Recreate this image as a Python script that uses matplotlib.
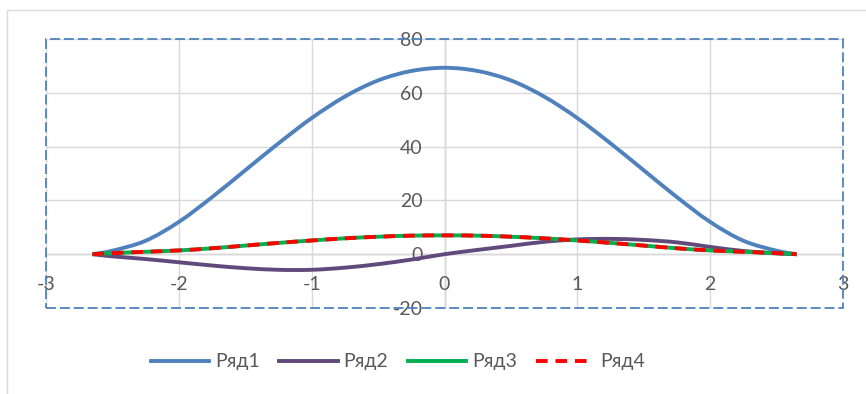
import matplotlib.pyplot as plt
from matplotlib.patches import Rectangle, PathPatch
from matplotlib.path import Path
from matplotlib.lines import Line2D

plt.rcParams['font.family'] = ['Lato', 'DejaVu Sans']
plt.rcParams['axes.unicode_minus'] = False

x = [-2.65, -2.5, -2.25, -2.0, -1.75, -1.5, -1.25, -1.0, -0.75, -0.5, -0.25, 0.0,
     0.25, 0.5, 0.75, 1.0, 1.25, 1.5, 1.75, 2.0, 2.25, 2.5, 2.65]
ryad1 = [0.0, 1.3, 5.0, 12.0, 21.2, 31.2, 41.2, 50.6, 58.6, 64.6, 68.1, 69.3,
         68.1, 64.6, 58.6, 50.6, 41.2, 31.2, 21.2, 12.0, 5.0, 1.3, 0.0]
ryad2 = [0.0, -0.8, -1.8, -3.0, -4.2, -5.2, -5.8, -5.8, -5.0, -3.7, -2.0, 0.0,
         1.6, 3.1, 4.6, 5.5, 5.7, 5.3, 4.4, 2.7, 1.2, 0.3, 0.0]
ryad3 = [0.0, 0.4, 0.9, 1.4, 2.2, 3.2, 4.2, 5.1, 5.9, 6.5, 6.9, 7.0,
         6.9, 6.5, 5.9, 5.1, 4.2, 3.2, 2.2, 1.4, 0.9, 0.4, 0.0]
ryad4 = list(ryad3)


def smooth_path(xs, ys):
    # smoothed line through the points, cubic Bezier segments (Catmull-Rom style)
    pts = list(zip(xs, ys))
    n = len(pts)
    verts = [pts[0]]
    codes = [Path.MOVETO]
    for i in range(n - 1):
        p0 = pts[max(i - 1, 0)]
        p1 = pts[i]
        p2 = pts[i + 1]
        p3 = pts[min(i + 2, n - 1)]
        c1 = (p1[0] + (p2[0] - p0[0]) / 6, p1[1] + (p2[1] - p0[1]) / 6)
        c2 = (p2[0] - (p3[0] - p1[0]) / 6, p2[1] - (p3[1] - p1[1]) / 6)
        verts += [c1, c2, p2]
        codes += [Path.CURVE4] * 3
    return Path(verts, codes)


fig = plt.figure(figsize=(8.66, 3.94), dpi=100)
# chart frame
fig.patches.append(Rectangle((7 / 866, -0.1), 1.1, 1 - 10 / 394 + 0.1,
                             transform=fig.transFigure, fill=False,
                             ec="#D9D9D9", lw=1))
ax = fig.add_axes([46 / 866, 1 - 308 / 394, 797 / 866, 269 / 394])

lw = 2.8
series = [
    (ryad1, "Ряд1", "#4F81BD", "-"),
    (ryad2, "Ряд2", "#604A7B", "-"),
    (ryad3, "Ряд3", "#00B050", "-"),
    (ryad4, "Ряд4", "#FF0000", (0, (3, 2))),
]
handles = []
for ys, name, col, ls in series:
    ax.add_patch(PathPatch(smooth_path(x, ys), fill=False, ec=col, lw=lw,
                           ls=ls, capstyle="butt", joinstyle="round"))
    handles.append(Line2D([], [], color=col, lw=lw, ls=ls, label=name))

ax.set_xlim(-3, 3)
ax.set_ylim(-20, 80)
ax.set_xticks(range(-3, 4))
ax.set_yticks(range(-20, 81, 20))
ax.grid(color="#D9D9D9", lw=1)
ax.set_axisbelow(True)

for s in ["top", "right"]:
    ax.spines[s].set_visible(False)
ax.spines["left"].set_position(("data", 0))
ax.spines["bottom"].set_position(("data", 0))
for s in ["left", "bottom"]:
    ax.spines[s].set_color("#BFBFBF")
    ax.spines[s].set_linewidth(1)
    ax.spines[s].set_zorder(0.5)
ax.tick_params(axis="both", length=0, labelsize=14, labelcolor="#595959")
ax.tick_params(axis="x", pad=16)
ax.tick_params(axis="y", pad=16)

# dashed border round the plot area
ax.add_patch(Rectangle((0, 0), 1, 1, transform=ax.transAxes, fill=False,
                       ec="#4F81BD", lw=1.3, ls=(0, (5.5, 2.2)), clip_on=False))

fig.legend(handles=handles, loc="center",
           bbox_to_anchor=(398 / 866, 1 - 362 / 394), ncol=4,
           frameon=False, fontsize=14, labelcolor="#595959",
           handlelength=3.0, handletextpad=0.3, columnspacing=1.0)

fig.savefig("out.png", dpi=100)
